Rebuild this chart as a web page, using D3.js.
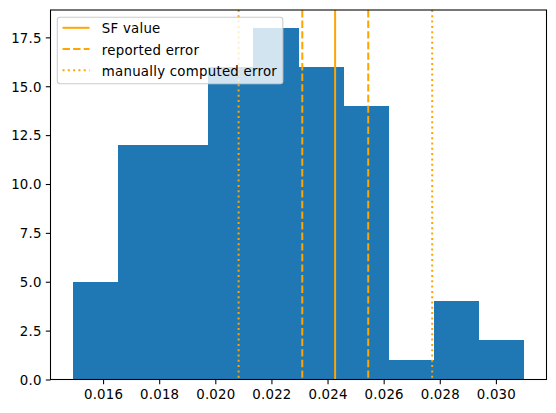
<!DOCTYPE html>
<html>
<head>
<meta charset="utf-8">
<script src="https://cdn.jsdelivr.net/npm/d3@7"></script>
<style>
  html, body { margin: 0; padding: 0; background: #fff; }
  svg { display: block; font-family: "DejaVu Sans", sans-serif; }
</style>
</head>
<body>
<svg id="chart" width="556" height="413"></svg>
<script>
// ---- data ----
const binStart = 0.01493;
const binEnd = 0.03100;
const counts = [5, 12, 12, 16, 18, 16, 14, 1, 4, 2];
const sfValue = [0.02427];
const reportedError = [0.02310, 0.02545];
const manualError = [0.02083, 0.02773];
const xTicks = [0.016, 0.018, 0.020, 0.022, 0.024, 0.026, 0.028, 0.030];
const yTicks = [0, 2.5, 5, 7.5, 10, 12.5, 15, 17.5];
const legendLabels = ["SF value", "reported error", "manually computed error"];

// ---- layout ----
const svg = d3.select("#chart");
const axLeft = 50.5, axRight = 546.5, axTop = 10, axBottom = 379.5;
const orange = "#FFA500";
const barColor = "#1f77b4";

const binW = (binEnd - binStart) / counts.length;
const bins = counts.map((c, i) => ({ x0: binStart + i * binW, x1: binStart + (i + 1) * binW, c }));
const xMargin = (binEnd - binStart) * 0.05;
const x = d3.scaleLinear().domain([binStart - xMargin, binEnd + xMargin]).range([axLeft, axRight]);
const y = d3.scaleLinear().domain([0, d3.max(counts) * 1.05]).range([axBottom, axTop]);

// bars
svg.append("g").attr("shape-rendering", "crispEdges")
  .selectAll("rect").data(bins).join("rect")
  .attr("x", d => x(d.x0))
  .attr("y", d => y(d.c))
  .attr("width", d => x(d.x1) - x(d.x0))
  .attr("height", d => y(0) - y(d.c))
  .attr("fill", barColor);

// vertical lines
const vlines = [
  ...sfValue.map(v => ({ v, dash: null })),
  ...reportedError.map(v => ({ v, dash: "7.4,3.2" })),
  ...manualError.map(v => ({ v, dash: "2,3.3" }))
];
svg.append("g").selectAll("line").data(vlines).join("line")
  .attr("x1", d => x(d.v)).attr("x2", d => x(d.v))
  .attr("y1", axTop).attr("y2", axBottom)
  .attr("stroke", orange).attr("stroke-width", 2)
  .attr("stroke-dasharray", d => d.dash);

// axes
const xAxis = d3.axisBottom(x).tickValues(xTicks).tickFormat(d3.format(".3f")).tickSizeOuter(0).tickSize(4.67).tickPadding(4.2);
const yAxis = d3.axisLeft(y).tickValues(yTicks).tickFormat(d3.format(".1f")).tickSizeOuter(0).tickSize(4.67).tickPadding(4.2);
const gx = svg.append("g").attr("transform", `translate(0,${axBottom})`).call(xAxis);
const gy = svg.append("g").attr("transform", `translate(${axLeft},0)`).call(yAxis);
[gx, gy].forEach(g => {
  g.select(".domain").remove();
  g.selectAll(".tick line").attr("stroke", "#000").attr("stroke-width", 1.07);
  g.selectAll(".tick text").attr("fill", "#000").attr("font-size", "13.33px")
    .attr("font-family", "DejaVu Sans, sans-serif").attr("letter-spacing", "0.2px");
});
gx.selectAll(".tick text").attr("dy", "0.76em");
gy.selectAll(".tick text").attr("dy", "0.36em");

// frame
svg.append("rect")
  .attr("x", axLeft).attr("y", axTop)
  .attr("width", axRight - axLeft).attr("height", axBottom - axTop)
  .attr("fill", "none").attr("stroke", "#000").attr("stroke-width", 1.07);

// legend
const lg = svg.append("g");
const lgBox = lg.append("rect")
  .attr("x", 57.3).attr("y", 17.2)
  .attr("rx", 2.7).attr("ry", 2.7)
  .attr("fill", "#fff").attr("fill-opacity", 0.8)
  .attr("stroke", "#cccccc").attr("stroke-width", 1.07);
const rowY = [27.8, 49.0, 70.2];
const dashes = [null, "7.4,3.2", "2,3.3"];
let maxEnd = 0;
legendLabels.forEach((lab, i) => {
  lg.append("line")
    .attr("x1", 62.5).attr("x2", 89.5)
    .attr("y1", rowY[i]).attr("y2", rowY[i])
    .attr("stroke", orange).attr("stroke-width", 2)
    .attr("stroke-dasharray", dashes[i]);
  const t = lg.append("text")
    .attr("x", 101.8).attr("y", rowY[i] + 5.6)
    .attr("font-size", "13.33px").attr("fill", "#000")
    .attr("letter-spacing", "0.25px")
    .text(lab);
  maxEnd = Math.max(maxEnd, t.node().getBBox().x + t.node().getBBox().width);
});
lgBox.attr("width", maxEnd + 5.5 - 57.3).attr("height", 83.8 - 17.2);
</script>
</body>
</html>
